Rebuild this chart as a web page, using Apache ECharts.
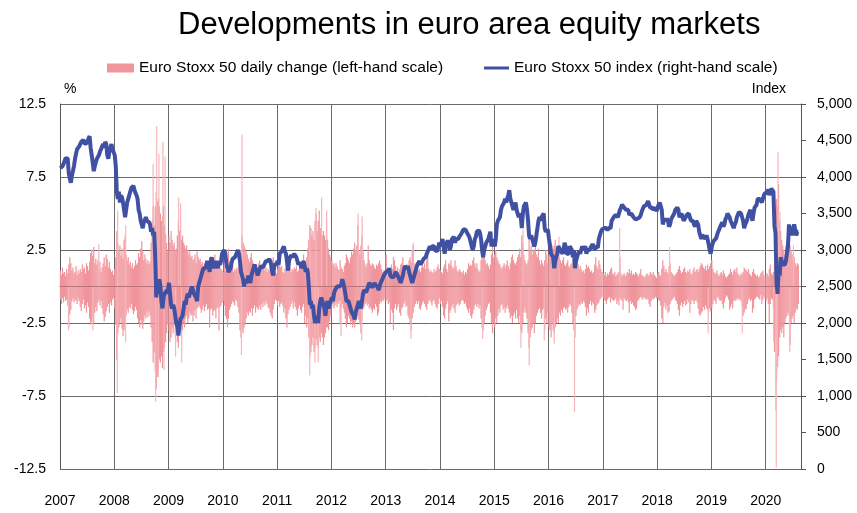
<!DOCTYPE html>
<html><head><meta charset="utf-8">
<script src="https://cdn.jsdelivr.net/npm/echarts@6/dist/echarts.min.js"></script>
<style>html,body{margin:0;padding:0;background:#fff}#c{width:857px;height:513px}</style>
</head><body><div id="c"></div>
<script>
// ---------- DATA ----------
const yearTicks = [2007,2008,2009,2010,2011,2012,2013,2014,2015,2016,2017,2018,2019,2020];
// weekly samples: 52 per year 2007-2019, 32 in 2020 (week k of year y = Jan 4 + 7k)
const gainWeekly = [
/*2007*/ 1.1,0.8,1.3,0.9, 1.0,0.7,1.2,0.9, 1.5,2.0,1.6,1.1,1.3, 0.9,1.0,1.4,0.8, 1.1,0.9,1.2,1.0,1.5, 1.2,1.3,0.9,1.6, 1.4,1.1,1.7,2.3, 2.5,2.1,2.7,1.6,1.9, 1.5,1.8,1.2,1.7, 1.0,1.3,1.6,2.0,1.4, 2.2,1.9,1.3,1.7, 1.2,1.0,1.1,0.8,
/*2008*/ 1.2,2.0,3.8,3.0, 2.4,2.8,2.1,2.6, 1.9,3.2,3.5,2.2,1.8, 2.0,1.5,1.7,1.3, 1.6,1.2,1.4,1.8,1.5, 1.6,2.3,2.0,2.6, 3.1,2.4,1.8,2.2, 1.9,1.6,1.8,1.5,1.7, 3.0,4.5,5.5,4.2, 5.5,6.5,5.8,6.0,5.5, 5.0,4.5,4.8,5.5, 4.2,3.6,3.0,2.4,
/*2009*/ 3.5,3.0,3.8,3.2, 2.8,3.0,2.5,2.6, 3.5,4.5,3.8,4.0,3.2, 3.5,3.0,2.8,2.6, 2.8,2.5,2.2,2.4,2.0, 2.1,1.8,1.9,2.2, 1.6,2.4,2.0,1.8, 1.9,1.5,1.7,1.4,1.6, 1.8,1.5,1.3,1.6, 2.0,1.7,1.5,1.4,1.8, 2.2,1.6,1.4,1.8, 1.5,1.3,1.2,1.1,
/*2010*/ 1.0,1.4,1.1,1.5, 1.8,2.6,1.7,1.5, 1.6,1.4,1.0,1.2,1.1, 1.3,1.2,1.5,2.0, 2.5,3.5,3.0,2.8,2.6, 2.4,2.2,1.9,1.7, 2.0,2.3,1.8,1.6, 1.4,1.3,1.5,1.2,1.6, 1.8,1.5,1.3,1.4, 1.2,1.1,1.3,1.0,1.2, 1.1,1.4,1.6,1.8, 2.0,1.3,1.0,0.9,
/*2011*/ 1.2,1.8,1.5,1.3, 1.4,1.0,0.9,1.2, 1.3,1.8,2.0,1.5,1.3, 1.0,1.2,1.1,1.3, 1.2,1.4,1.0,1.1,1.3, 1.3,1.5,1.8,2.2, 1.6,1.4,2.0,2.6, 3.2,4.2,4.0,3.5,3.8, 3.2,4.5,5.0,3.8, 4.5,5.2,4.0,3.8,3.5, 3.8,3.5,3.2,4.5, 3.2,2.6,2.2,2.0,
/*2012*/ 1.8,1.5,1.6,1.3, 1.6,1.4,1.2,1.1, 1.8,1.3,1.2,1.0,1.4, 1.6,2.2,2.0,1.8, 1.6,2.0,2.4,2.2,2.6, 3.0,2.5,2.8,4.2, 2.5,2.2,2.8,3.5, 2.4,1.8,1.5,1.3,1.6, 2.8,1.8,1.5,1.4, 1.6,1.5,1.3,1.2,1.5, 1.4,1.6,1.8,1.5, 1.2,1.0,1.1,0.9,
/*2013*/ 2.2,1.0,0.9,1.1, 1.3,1.5,1.2,2.0, 1.8,1.4,1.1,1.3,1.0, 1.2,1.5,1.6,2.0, 1.4,1.2,1.0,1.5,1.3, 1.8,2.0,1.7,2.5, 2.8,1.6,1.3,1.2, 1.4,1.1,1.2,1.0,1.3, 1.5,1.3,1.6,1.2, 1.8,2.2,1.2,1.0,1.1, 1.0,0.9,1.2,1.0, 1.1,1.3,1.5,1.2,
/*2014*/ 1.1,1.0,0.9,1.3, 1.5,1.8,1.2,1.0, 1.6,1.5,1.8,1.4,1.2, 1.3,1.8,1.4,1.1, 1.0,1.2,1.1,1.0,0.9, 1.1,0.8,1.0,0.9, 1.2,1.6,1.4,1.5, 1.4,1.8,2.0,1.6,1.3, 1.6,1.2,1.0,1.1, 1.8,2.0,2.5,2.8,1.8, 1.5,1.6,1.4,1.2, 1.5,2.2,2.8,2.0,
/*2015*/ 2.2,2.5,2.0,1.8, 1.6,1.5,1.3,1.2, 1.4,1.6,1.3,1.5,1.8, 1.4,1.2,1.6,2.0, 2.2,1.8,1.6,1.5,1.7, 2.0,2.2,2.6,2.0, 3.5,3.0,2.2,1.8, 1.6,1.5,1.8,3.2,2.5, 2.8,2.2,2.5,2.4, 3.0,2.2,2.0,2.6,1.8, 1.5,1.8,1.6,1.4, 1.8,2.5,2.2,1.6,
/*2016*/ 2.2,2.5,3.0,2.8, 2.6,2.8,3.2,2.5, 2.8,2.4,2.0,1.8,1.6, 1.8,2.0,1.5,1.4, 1.6,1.8,1.4,1.3,1.5, 1.6,1.8,2.5,2.2, 2.0,1.8,1.5,1.2, 1.4,1.2,1.0,1.1,0.9, 1.2,1.5,1.3,1.4, 1.2,1.0,1.1,0.9,1.0, 1.5,2.0,1.4,1.2, 1.8,1.5,1.2,1.0,
/*2017*/ 0.9,0.8,1.0,0.7, 0.9,0.8,1.0,1.2, 1.3,0.9,0.8,1.0,0.7, 0.8,0.9,1.0,2.0, 0.9,0.7,0.8,0.9,0.7, 0.8,1.0,0.9,1.2, 0.9,1.1,0.8,0.9, 0.8,1.0,0.9,0.8,0.7, 0.9,1.2,0.8,0.7, 0.7,0.6,0.8,0.9,0.7, 0.8,1.0,0.9,0.8, 1.0,0.8,0.7,0.6,
/*2018*/ 0.9,1.0,0.8,0.7, 1.2,1.8,1.4,1.0, 1.2,1.0,0.9,1.4,1.6, 1.0,0.9,0.8,0.7, 0.8,0.9,1.0,1.2,1.4, 1.1,0.9,1.0,1.2, 1.3,1.0,0.9,1.1, 1.0,1.2,0.9,0.8,1.1, 1.3,1.0,1.1,1.2, 1.0,1.2,1.4,1.6,1.5, 1.3,1.2,1.4,1.1, 1.5,1.2,1.4,1.6,
/*2019*/ 1.8,1.2,1.0,0.9, 0.9,1.1,0.8,0.7, 0.9,1.0,0.8,1.1,0.9, 0.7,0.6,0.7,0.8, 0.9,1.2,1.0,0.8,1.1, 1.2,1.0,1.3,0.9, 0.8,0.7,0.9,0.8, 1.0,1.3,1.2,1.1,1.0, 1.2,0.9,0.8,0.7, 1.0,1.2,0.9,0.8,0.7, 0.8,0.6,0.7,0.9, 1.0,1.1,0.8,0.6,
/*2020*/ 0.8,0.9,0.7,1.2, 1.5,0.9,0.8,1.0, 1.5,2.8,6.0,5.5,7.0, 4.5,3.8,3.2,2.8, 2.5,2.2,2.8,3.2,3.0, 3.5,2.8,2.5,2.2, 1.8,2.0,1.6,1.4, 1.6,1.5
];
const lossWeekly = [
/*2007*/ -0.9,-1.2,-0.8,-1.1, -0.7,-1.0,-0.9,-1.3, -2.8,-1.9,-1.6,-1.0,-0.8, -1.1,-0.9,-1.0,-1.2, -0.8,-1.0,-1.4,-1.7,-1.2, -0.9,-1.5,-1.3,-1.8, -1.1,-1.4,-2.2,-2.6, -2.4,-2.0,-2.5,-1.8,-1.4, -1.7,-1.1,-0.9,-1.3, -1.0,-1.5,-1.9,-2.4,-2.1, -1.7,-1.4,-1.2,-1.8, -1.1,-1.3,-0.9,-0.8,
/*2008*/ -1.5,-2.6,-5.0,-3.2, -2.8,-2.5,-2.2,-2.9, -3.4,-3.0,-2.4,-2.0,-1.6, -1.8,-1.4,-1.5,-1.2, -1.6,-1.9,-1.7,-1.4,-1.6, -2.2,-2.5,-2.8,-2.3, -2.6,-2.9,-2.4,-2.0, -2.2,-1.8,-2.1,-1.7,-2.0, -2.8,-3.8,-5.2,-4.5, -5.8,-7.0,-6.2,-5.5,-5.0, -5.2,-4.8,-5.6,-4.5, -4.2,-3.8,-3.2,-2.6,
/*2009*/ -3.0,-3.8,-3.5,-2.8, -3.2,-2.6,-3.5,-3.0, -3.8,-4.2,-3.0,-2.8,-3.5, -3.0,-2.5,-2.8,-2.2, -2.0,-2.5,-2.2,-1.8,-2.0, -1.9,-2.4,-2.0,-1.6, -2.2,-1.5,-1.4,-1.3, -1.5,-1.8,-1.6,-1.3,-1.7, -1.4,-1.2,-1.6,-1.5, -2.8,-1.6,-1.5,-2.0,-1.7, -1.6,-2.2,-1.5,-1.4, -3.0,-1.4,-1.3,-1.1,
/*2010*/ -1.0,-1.3,-2.0,-2.2, -2.8,-2.2,-1.6,-1.4, -1.2,-1.0,-1.1,-1.3,-0.9, -1.0,-1.4,-1.8,-3.0, -3.5,-3.0,-3.2,-2.8,-2.6, -2.2,-1.8,-2.0,-1.7, -1.8,-1.5,-2.0,-1.5, -1.3,-1.8,-1.4,-1.5,-1.6, -1.3,-1.6,-1.2,-1.4, -1.1,-1.3,-1.0,-1.2,-1.4, -1.5,-1.8,-2.0,-2.2, -1.6,-1.2,-0.9,-1.0,
/*2011*/ -1.3,-1.0,-1.4,-1.2, -1.1,-1.3,-1.8,-1.5, -2.2,-2.8,-1.9,-1.6,-1.4, -1.2,-1.0,-1.5,-1.1, -1.4,-1.6,-2.0,-1.5,-1.3, -1.6,-1.8,-1.4,-1.2, -2.5,-2.0,-2.8,-2.2, -3.5,-4.8,-4.5,-4.0,-3.5, -4.5,-4.2,-3.6,-4.0, -4.2,-3.5,-3.8,-3.2,-3.5, -4.0,-3.5,-3.2,-2.8, -2.8,-3.0,-2.4,-2.0,
/*2012*/ -1.4,-1.2,-1.5,-1.3, -1.1,-1.4,-1.2,-1.0, -2.6,-1.4,-1.2,-1.5,-1.8, -2.2,-2.8,-2.5,-2.0, -2.2,-2.6,-2.4,-2.8,-2.5, -2.8,-2.4,-2.2,-2.0, -2.3,-2.6,-3.2,-2.4, -1.6,-1.4,-1.2,-1.1,-1.3, -1.2,-1.5,-1.4,-1.6, -1.8,-1.5,-1.6,-1.2,-1.4, -2.0,-1.8,-1.2,-1.0, -1.1,-0.9,-1.0,-0.8,
/*2013*/ -1.0,-0.9,-1.2,-1.1, -2.5,-1.6,-1.8,-3.0, -1.5,-1.2,-1.6,-1.4,-1.2, -1.8,-2.0,-1.5,-1.4, -1.2,-1.0,-1.4,-1.3,-2.0, -2.2,-2.5,-3.0,-2.2, -1.8,-1.4,-1.2,-1.0, -1.2,-1.0,-1.5,-1.6,-1.3, -1.1,-1.0,-1.2,-1.4, -1.6,-1.2,-1.0,-0.9,-1.1, -1.3,-1.0,-0.9,-1.2, -1.4,-1.5,-1.2,-0.8,
/*2014*/ -1.2,-1.0,-1.4,-2.0, -2.2,-1.5,-1.2,-1.0, -2.4,-1.8,-1.6,-1.4,-1.2, -1.5,-1.8,-1.3,-1.2, -1.1,-1.3,-1.2,-1.0,-0.9, -1.0,-1.2,-1.1,-1.4, -1.6,-1.8,-1.5,-2.0, -2.2,-1.9,-1.6,-1.3,-1.2, -1.4,-1.2,-1.5,-1.3, -2.2,-2.8,-3.0,-2.5,-2.0, -1.6,-1.4,-1.2,-1.1, -1.8,-2.5,-3.2,-2.5,
/*2015*/ -2.8,-2.2,-2.5,-2.0, -1.5,-1.8,-1.3,-1.2, -1.6,-1.4,-1.8,-1.5,-1.3, -1.5,-1.8,-2.2,-2.0, -2.5,-2.0,-1.8,-2.2,-1.6, -2.2,-2.5,-2.0,-3.0, -3.2,-2.5,-1.8,-1.5, -1.8,-2.2,-3.2,-4.2,-3.5, -3.0,-2.8,-2.5,-3.2, -2.5,-2.0,-1.8,-1.6,-1.5, -1.8,-2.2,-1.6,-1.5, -3.0,-2.2,-2.5,-1.8,
/*2016*/ -2.8,-3.0,-3.5,-2.6, -3.0,-3.2,-2.8,-2.5, -2.2,-2.5,-1.8,-2.0,-1.6, -1.8,-1.5,-1.4,-1.6, -1.5,-1.8,-1.4,-1.2,-1.3, -1.8,-2.5,-3.0,-3.5, -2.0,-1.6,-1.4,-1.2, -1.3,-1.1,-1.2,-1.0,-1.1, -1.4,-2.0,-1.5,-1.8, -1.2,-1.0,-1.3,-1.1,-1.2, -1.8,-1.6,-1.3,-1.2, -1.1,-0.9,-0.8,-0.7,
/*2017*/ -0.8,-0.9,-1.0,-1.2, -0.9,-0.8,-0.7,-1.1, -0.8,-0.9,-1.0,-0.9,-0.8, -1.2,-1.0,-1.3,-0.8, -0.9,-1.0,-1.6,-0.8,-0.9, -1.0,-0.9,-1.1,-1.8, -1.0,-1.2,-1.1,-1.3, -1.4,-1.6,-1.5,-1.0,-0.9, -0.8,-0.7,-0.8,-0.9, -0.7,-0.8,-0.9,-0.8,-0.9, -1.2,-1.4,-1.0,-0.8, -0.9,-0.8,-0.7,-0.8,
/*2018*/ -0.8,-0.9,-1.0,-1.3, -2.2,-2.5,-1.4,-1.1, -1.6,-1.3,-1.8,-1.7,-1.2, -1.0,-0.9,-0.8,-0.7, -0.9,-1.0,-1.2,-1.6,-2.0, -1.3,-1.1,-1.4,-1.2, -1.0,-1.3,-1.2,-0.9, -1.1,-1.8,-1.2,-0.9,-1.0, -1.2,-1.0,-0.9,-1.1, -1.5,-1.9,-2.0,-1.8,-1.7, -1.4,-1.6,-1.3,-1.5, -1.6,-1.8,-1.5,-1.7,
/*2019*/ -1.5,-1.2,-0.9,-1.0, -1.2,-0.8,-0.7,-0.9, -1.0,-0.9,-1.2,-1.5,-1.1, -0.8,-0.6,-0.7,-0.9, -1.6,-1.4,-1.2,-1.5,-1.0, -0.9,-1.0,-0.8,-0.9, -0.8,-0.9,-1.0,-1.3, -2.0,-1.8,-1.6,-1.5,-1.2, -0.9,-0.8,-1.0,-0.9, -1.8,-1.5,-0.9,-0.8,-0.7, -0.7,-0.8,-0.9,-0.6, -1.2,-0.9,-0.7,-0.8,
/*2020*/ -1.0,-0.8,-1.2,-2.5, -1.2,-0.8,-0.9,-1.5, -4.5,-3.5,-6.5,-5.5,-4.8, -3.5,-3.0,-3.2,-2.8, -3.5,-2.5,-2.2,-2.0,-1.8, -2.0,-4.0,-2.5,-2.2, -2.0,-2.5,-1.8,-1.5, -1.6,-1.2
];
const indexWeekly = [
/*2007*/ 4120,4100,4150,4180, 4220,4260,4270,4250, 4050,3980,3920,4020,4080, 4150,4250,4320,4380, 4400,4420,4450,4480,4500, 4510,4460,4480,4460, 4490,4530,4560,4400, 4300,4200,4080,4150,4200, 4250,4230,4300,4350, 4380,4420,4450,4400,4480, 4450,4300,4250,4350, 4400,4450,4380,4400,
/*2008*/ 4300,4150,3800,3700, 3800,3650,3750,3720, 3650,3550,3450,3550,3650, 3700,3750,3800,3850, 3850,3880,3820,3780,3750, 3700,3550,3500,3400, 3350,3300,3380,3400, 3450,3400,3420,3380,3350, 3250,3300,3200,3250, 2900,2350,2550,2400,2600, 2500,2300,2200,2350, 2400,2400,2450,2400,
/*2009*/ 2550,2400,2250,2200, 2250,2200,2100,2000, 1950,1830,1950,2050,2050, 2100,2200,2300,2250, 2350,2400,2350,2400,2450, 2500,2450,2400,2400, 2350,2300,2500,2550, 2600,2650,2700,2750,2750, 2750,2800,2850,2800, 2700,2850,2900,2880,2750, 2800,2850,2830,2750, 2850,2800,2850,2950,
/*2010*/ 2950,3000,2950,2800, 2750,2700,2720,2750, 2830,2880,2900,2900,2930, 2960,3000,2950,2850, 2700,2650,2600,2500,2600, 2550,2580,2650,2600, 2550,2650,2700,2750, 2800,2750,2720,2650,2700, 2720,2780,2800,2760, 2780,2820,2850,2870,2850, 2880,2850,2800,2700, 2650,2800,2820,2800,
/*2011*/ 2850,2800,2950,2950, 2980,3020,3050,2980, 2950,2850,2720,2850,2900, 2930,2900,2880,2950, 2950,2900,2850,2800,2830, 2800,2750,2750,2850, 2850,2700,2750,2700, 2500,2250,2300,2200,2250, 2100,2000,2050,2100, 2000,2200,2300,2350,2300, 2250,2200,2100,2250, 2300,2200,2250,2300,
/*2012*/ 2350,2300,2400,2450, 2450,2500,2500,2500, 2480,2520,2600,2550,2480, 2400,2300,2280,2300, 2280,2200,2150,2150,2100, 2050,2150,2200,2200, 2300,2250,2200,2300, 2400,2450,2450,2420,2400, 2500,2550,2560,2500, 2480,2500,2550,2520,2500, 2500,2450,2500,2550, 2580,2600,2650,2630,
/*2013*/ 2700,2680,2720,2750, 2650,2630,2620,2600, 2650,2700,2680,2650,2620, 2600,2550,2600,2650, 2720,2780,2800,2750,2780, 2700,2650,2600,2550, 2600,2650,2700,2750, 2800,2800,2850,2800,2780, 2850,2880,2900,2900, 2950,2980,3000,3050,3000, 3050,3030,3050,3000, 3000,2980,3000,3100,
/*2014*/ 3050,3100,3150,3050, 2950,3050,3100,3130, 3100,3000,3050,3150,3150, 3180,3100,3150,3170, 3150,3180,3200,3220,3250, 3280,3300,3280,3250, 3250,3200,3170,3150, 3050,3000,3050,3150,3180, 3250,3230,3270,3230, 3150,3000,2900,3000,3050, 3100,3080,3150,3200, 3250,3050,3050,3150,
/*2015*/ 3050,3150,3350,3400, 3400,3450,3550,3600, 3600,3650,3700,3650,3700, 3750,3820,3700,3650, 3600,3550,3600,3650,3550, 3550,3450,3500,3450, 3300,3500,3600,3600, 3650,3550,3400,3200,3150, 3200,3150,3150,3050, 3100,3200,3300,3400,3450, 3400,3450,3450,3500, 3300,3250,3250,3280,
/*2016*/ 3150,3050,2950,2950, 2900,2750,2850,2900, 2950,3050,3050,3000,3000, 2950,3000,3100,3050, 2950,2950,2950,3050,3050, 3000,2900,3000,2750, 2850,2900,2950,2980, 2950,3000,3050,3000,3020, 3050,2950,3000,3000, 3000,3030,3050,3080,3050, 3000,3050,3050,3030, 3150,3200,3250,3280,
/*2017*/ 3300,3300,3280,3300, 3270,3300,3320,3300, 3400,3420,3450,3450,3480, 3480,3450,3430,3550, 3580,3620,3600,3580,3560, 3550,3570,3550,3480, 3470,3500,3480,3450, 3450,3420,3400,3430,3420, 3450,3480,3530,3550, 3600,3600,3610,3630,3670, 3650,3580,3570,3580, 3550,3570,3580,3530,
/*2018*/ 3550,3620,3650,3650, 3550,3350,3400,3430, 3400,3430,3400,3320,3350, 3420,3450,3470,3500, 3550,3560,3580,3550,3450, 3450,3500,3450,3400, 3420,3450,3480,3500, 3500,3450,3400,3420,3400, 3350,3320,3400,3420, 3350,3250,3200,3150,3200, 3200,3180,3150,3200, 3150,3080,3000,2950,
/*2019*/ 3050,3100,3130,3150, 3160,3150,3250,3280, 3320,3300,3380,3320,3350, 3420,3450,3500,3500, 3450,3400,3370,3350,3300, 3350,3380,3450,3460, 3520,3500,3500,3520, 3400,3300,3350,3380,3420, 3480,3500,3550,3550, 3400,3500,3580,3600,3620, 3700,3700,3700,3680, 3650,3700,3750,3780,
/*2020*/ 3800,3780,3830,3750, 3800,3840,3850,3800, 3330,3230,2550,2400,2700, 2650,2900,2880,2800, 2800,2800,2850,2950,3050, 3350,3250,3280,3200, 3300,3350,3350,3200, 3250,3250
];
// notable single-day moves (%), drawn on top of the weekly band
const spikeDates = ['2007-02-27','2007-08-10','2007-09-19','2008-01-21','2008-01-24','2008-03-17','2008-03-18','2008-09-19','2008-10-06','2008-10-13','2008-10-24','2008-10-28','2008-11-24','2008-12-01','2008-12-08','2009-02-17','2009-03-10','2009-03-23','2009-03-30','2010-05-06','2010-05-10','2011-08-08','2011-08-09','2011-09-12','2011-09-19','2011-10-04','2011-10-27','2011-11-30','2012-03-06','2012-06-29','2012-07-23','2012-07-26','2013-06-20','2013-07-05','2014-10-15','2015-06-29','2015-07-13','2015-08-24','2015-12-03','2016-02-08','2016-03-11','2016-06-24','2017-04-24','2018-03-26','2018-12-10','2019-07-27','2020-02-24','2020-03-09','2020-03-12','2020-03-16','2020-03-18','2020-03-24','2020-03-26','2020-04-06','2020-06-11','2020-07-06'];
const spikeValues = [-3.0,-3.0,2.9,-7.3,5.2,-3.8,4.2,8.4,-7.9,11.0,-6.2,9.1,9.9,-5.7,8.9,-4.8,6.1,5.7,-5.2,-4.7,10.4,-6.1,4.1,-5.2,5.4,-5.2,6.1,5.2,-3.4,5.0,-3.7,4.8,-3.6,3.0,-3.6,-4.2,3.9,-5.4,-3.7,-3.9,3.4,-8.6,4.0,2.7,-3.2,-3.2,-3.8,-8.5,-12.4,-5.7,-5.2,9.2,5.0,5.1,-4.5,2.8];

// ---------- helpers ----------
function fracYear(d){const y=d.getUTCFullYear();const a=Date.UTC(y,0,1),b=Date.UTC(y+1,0,1);return y+(d.getTime()-a)/(b-a);}
function weekPos(i){const y=2007+Math.floor(i/52),k=i%52;return fracYear(new Date(Date.UTC(y,0,4+7*k)));}
function datePos(s){const p=s.split('-').map(Number);return fracYear(new Date(Date.UTC(p[0],p[1]-1,p[2])));}
const gainData=gainWeekly.map((v,i)=>[weekPos(i),v]);
const lossData=lossWeekly.map((v,i)=>[weekPos(i),v]);
const indexData=indexWeekly.map((v,i)=>[weekPos(i),v]);
const spikeData=spikeValues.map((v,i)=>[datePos(spikeDates[i]),v]);

const FONT='Liberation Sans, Arial, sans-serif';
const GRID='#6a6a6a', AXIS='#555555';
const BAR='#f0959c', SPIKE='#f6b6bb', LINE='#4051a3';
const BAR_NAME='Euro Stoxx 50 daily change (left-hand scale)';
const LINE_NAME='Euro Stoxx 50 index (right-hand scale)';
const chart=echarts.init(document.getElementById('c'),null,{renderer:'canvas'});
chart.setOption({
  animation:false,
  textStyle:{fontFamily:FONT,color:'#000'},
  title:{text:'Developments in euro area equity markets',left:173,top:5,
    textStyle:{fontFamily:FONT,fontSize:31,fontWeight:'normal',color:'#000'}},
  legend:[
    {left:102,top:55,itemWidth:27,itemHeight:9,
      textStyle:{fontFamily:FONT,fontSize:15.5,color:'#000'},
      data:[{name:BAR_NAME,icon:'rect'}]},
    {left:479,top:55,itemWidth:25,itemHeight:3,
      textStyle:{fontFamily:FONT,fontSize:15.5,color:'#000'},
      data:[{name:LINE_NAME,icon:'rect'}]}
  ],
  grid:{left:60,right:56,top:104,bottom:44},
  xAxis:{type:'value',min:yearTicks[0],max:2020.65,interval:1,
    axisLine:{show:true,lineStyle:{color:AXIS}},axisTick:{show:false},
    splitLine:{show:true,lineStyle:{color:GRID,width:1}},
    axisLabel:{showMaxLabel:false,margin:25,fontSize:14,color:'#000',fontFamily:FONT,
      formatter:v=>String(Math.round(v))}},
  yAxis:[
    {type:'value',min:-12.5,max:12.5,interval:5,name:'%',nameLocation:'end',nameGap:8,
      nameTextStyle:{fontSize:14,color:'#000',align:'left',padding:[0,0,0,4],fontFamily:FONT},
      axisLine:{show:true,lineStyle:{color:AXIS}},axisTick:{show:false},
      splitLine:{show:true,lineStyle:{color:GRID,width:1}},
      axisLabel:{fontSize:14,color:'#000',margin:14,fontFamily:FONT}},
    {type:'value',min:0,max:5000,interval:500,position:'right',name:'Index',nameLocation:'end',nameGap:8,
      nameTextStyle:{fontSize:14,color:'#000',align:'right',padding:[0,15,0,0],fontFamily:FONT},
      axisLine:{show:true,lineStyle:{color:AXIS}},axisTick:{show:true,length:5,lineStyle:{color:AXIS}},
      splitLine:{show:false},
      axisLabel:{fontSize:14,color:'#000',margin:16,fontFamily:FONT}}
  ],
  series:[
    {name:BAR_NAME,type:'bar',data:gainData,barWidth:1.2,itemStyle:{color:BAR},silent:true},
    {name:'loss',type:'bar',data:lossData,barWidth:1.2,itemStyle:{color:BAR},silent:true},
    {name:'spike',type:'bar',data:spikeData,barWidth:1.2,barGap:'-100%',itemStyle:{color:SPIKE},silent:true,
      markLine:{silent:true,symbol:'none',label:{show:false},
        lineStyle:{color:'#b9737b',width:1,type:'solid'},data:[{yAxis:0}]}},
    {name:LINE_NAME,type:'line',yAxisIndex:1,data:indexData,
      symbol:'none',z:5,lineStyle:{color:LINE,width:4},itemStyle:{color:LINE}}
  ]
});
</script></body></html>
